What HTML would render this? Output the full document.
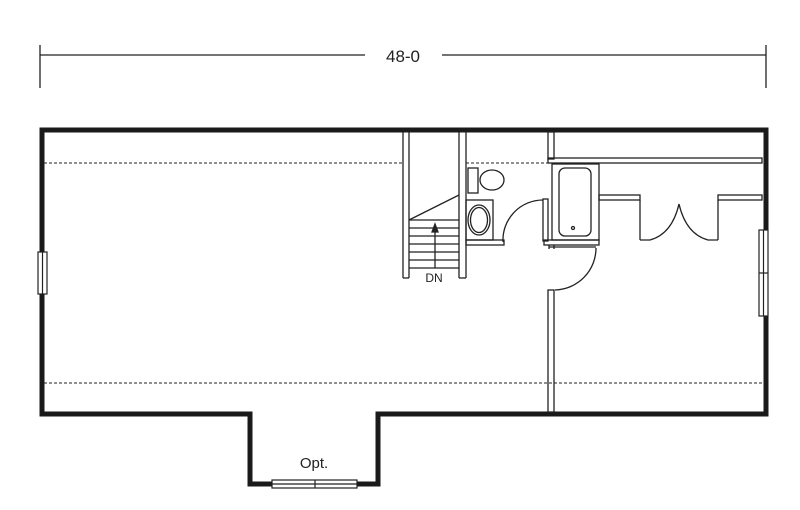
<!DOCTYPE html>
<html><head><style>html,body{margin:0;padding:0;background:#fff}</style></head><body>
<svg width="800" height="510" viewBox="0 0 800 510" xmlns="http://www.w3.org/2000/svg" style="display:block">
<g stroke="#222" fill="none" stroke-width="1.3">
<line x1="40" y1="55" x2="365" y2="55"/><line x1="442" y1="55" x2="766" y2="55"/>
<line x1="40" y1="45" x2="40" y2="88"/><line x1="766" y1="45" x2="766" y2="88"/>
<line x1="44" y1="163" x2="404" y2="163" stroke-dasharray="3,2" stroke-width="0.9"/>
<line x1="466" y1="163" x2="548" y2="163" stroke-dasharray="3,2" stroke-width="0.9"/>
<line x1="44" y1="383" x2="764" y2="383" stroke-dasharray="3,2" stroke-width="0.9"/>
</g>
<path d="M42 130 H766 V414 H378 V484 H250 V414 H42 Z" fill="none" stroke="#1a1a1a" stroke-width="5"/>
<g fill="#fff" stroke="#222" stroke-width="1.2">
<rect x="38" y="252" width="9" height="42"/><line x1="42.5" y1="252" x2="42.5" y2="294"/>
<rect x="759" y="230" width="9" height="86"/><line x1="763.5" y1="230" x2="763.5" y2="316"/><line x1="759" y1="273" x2="768" y2="273"/>
<rect x="272" y="480" width="85" height="8"/><line x1="272" y1="484" x2="357" y2="484"/><line x1="315" y1="480" x2="315" y2="488"/>
</g>
<g stroke="#222" fill="none" stroke-width="1.3">
<line x1="403" y1="132" x2="403" y2="278"/><line x1="409" y1="132" x2="409" y2="278"/><line x1="403" y1="278" x2="409" y2="278"/>
<line x1="459" y1="132" x2="459" y2="278"/><line x1="466" y1="132" x2="466" y2="278"/><line x1="459" y1="278" x2="466" y2="278"/>
<path d="M409 220 L459 195"/>
<line x1="409" y1="220" x2="459" y2="220"/><line x1="409" y1="228" x2="459" y2="228"/><line x1="409" y1="236" x2="459" y2="236"/>
<line x1="409" y1="244" x2="459" y2="244"/><line x1="409" y1="252" x2="459" y2="252"/><line x1="409" y1="260" x2="459" y2="260"/><line x1="409" y1="268" x2="459" y2="268"/>
<line x1="435" y1="268" x2="435" y2="226"/>
<path d="M432 232 L435 224 L438 232 Z" fill="#222"/>
<rect x="468" y="168" width="10" height="25"/>
<ellipse cx="492" cy="180" rx="12" ry="10"/>
<rect x="466" y="200" width="27" height="40"/>
<ellipse cx="479" cy="220" rx="11" ry="15"/><ellipse cx="479" cy="220" rx="8.5" ry="12.5"/>
<rect x="466" y="240" width="38" height="5"/>
<path d="M503 242 A40 40 0 0 1 543 200"/>
<rect x="543" y="199" width="5" height="42"/>
<rect x="548" y="132" width="6" height="27"/>
<rect x="548" y="158" width="214" height="5"/>
<rect x="552" y="164" width="47" height="76"/>
<rect x="559" y="168" width="32" height="68" rx="6"/>
<circle cx="573" cy="228" r="1.5"/>
<rect x="544" y="240" width="55" height="5"/>
<line x1="549" y1="247" x2="596" y2="247"/>
<line x1="549" y1="245" x2="549" y2="249"/><line x1="554" y1="245" x2="554" y2="249"/>
<path d="M596 248 A42 42 0 0 1 555 290"/>
<rect x="548" y="290" width="6" height="122"/>
<rect x="599" y="195" width="41" height="5"/>
<rect x="718" y="195" width="44" height="5"/>
<line x1="640" y1="200" x2="640" y2="240"/><line x1="718" y1="200" x2="718" y2="240"/>
<path d="M640 240 L650 240 Q672 234 679 204 Q686 234 708 240 L718 240"/>
</g>
<g font-family="Liberation Sans, sans-serif" fill="#222">
<text x="403" y="62" font-size="17" text-anchor="middle">48-0</text>
<text x="434" y="282" font-size="12" text-anchor="middle">DN</text>
<text x="314" y="468" font-size="15" text-anchor="middle">Opt.</text>
</g>
</svg>
</body></html>
